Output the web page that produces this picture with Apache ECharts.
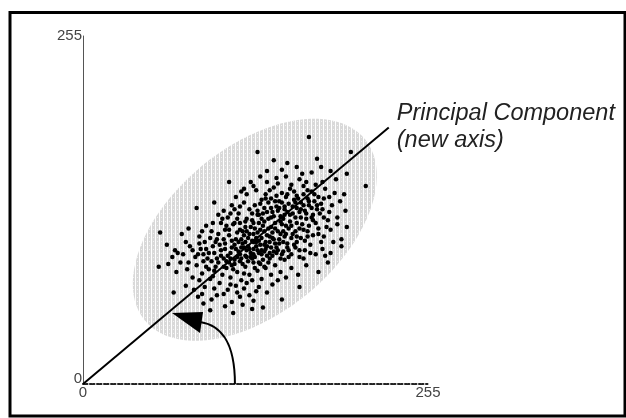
<!DOCTYPE html>
<html>
<head>
<meta charset="utf-8">
<script src="https://cdn.jsdelivr.net/npm/echarts@6/dist/echarts.min.js"></script>
<style>
  html, body { margin: 0; padding: 0; background: #fff; }
  #chart { width: 626px; height: 418px; }
</style>
</head>
<body>
<div id="chart"></div>
<script>
// Two-band intensity space (0..255 on each axis)
const axisRange = [0, 255];
const axisTicks = [0, 255];

// Pixel samples: [band 1 value, band 2 value]
const samplePoints = [
  // sparse upper tail
  [167,181],[129,170],[198,170],[141,164],[151,162],[173,165],[136,156],[158,159],[169,155],[176,159],
  [183,156],[195,154],[209,145],[108,148],[124,148],[136,148],[143,151],[160,150],[177,148],[147,157],
  [162,154],[154,146],[131,152],[187,150],[119,143],[150,152],
  // upper shoulder
  [193,139],[182,137],[128,142],[135,139],[141,144],[147,140],[153,143],[158,138],[163,145],[169,141],
  [174,137],[179,143],[186,140],[113,137],[121,139],[132,135],[139,136],[145,134],[150,137],[156,135],
  [161,133],[166,136],[171,134],[176,132],[144,147],[126,145],[165,148],[190,134],[117,141],[156,141],
  [138,142],[149,130],[178,136],[184,131],[172,146],[166,142],
  // upper core
  [84,129],[97,133],[104,127],[110,131],[115,125],[119,133],[123,128],[127,131],[130,124],[134,129],
  [137,133],[140,126],[143,130],[146,123],[149,128],[152,132],[155,125],[158,129],[161,122],[164,127],
  [167,131],[170,124],[173,128],[178,122],[182,126],[188,122],[194,127],[107,122],[112,128],[121,121],
  [125,125],[132,121],[136,126],[139,122],[144,127],[148,121],[153,124],[157,133],[160,126],[165,121],
  [169,129],[175,125],[129,127],[142,134],[151,126],[163,131],[100,124],[116,130],
  [125,120],[129,124],[133,125],[137,121],[141,123],[145,129],[149,124],[153,119],[157,122],[161,128],
  [165,125],[169,122],[173,131],[177,128],[181,120],[131,132],[135,136],[139,129],[143,138],[147,133],
  [151,139],[155,130],[159,136],[163,139],[167,134],[171,139],[103,121],[109,125],[114,121],
  // central core
  [57,111],[73,110],[78,114],[86,108],[91,116],[95,112],[99,106],[102,118],[105,113],[108,109],
  [111,117],[114,111],[117,106],[120,115],[123,110],[126,118],[128,107],[131,113],[134,119],[136,109],
  [139,115],[141,106],[144,112],[147,117],[149,108],[152,114],[155,110],[158,118],[161,107],[163,113],
  [167,116],[170,109],[174,114],[178,108],[183,113],[188,117],[195,115],[191,106],[129,111],[132,107],
  [137,114],[142,118],[146,110],[150,116],[154,107],[157,112],[119,109],[116,118],[110,105],[125,105],
  [135,104],[145,106],[160,114],[166,108],[172,118],[96,118],[88,112],[106,116],[140,111],[121,112],
  [127,114],[133,116],[148,112],
  [118,112],[122,107],[126,110],[130,118],[134,112],[138,108],[142,114],[146,119],[150,110],[154,116],
  [158,108],[162,117],[166,112],[170,120],[174,110],[100,110],[104,106],[108,113],[112,118],[116,113],
  [120,119],[124,115],[180,115],[185,104],[176,104],
  // lower core
  [62,102],[68,98],[74,95],[79,101],[83,93],[87,99],[90,104],[93,96],[96,101],[99,92],
  [102,98],[105,103],[107,94],[110,100],[112,91],[115,97],[118,103],[120,94],[123,99],[125,92],
  [128,101],[130,96],[133,91],[135,99],[138,104],[140,94],[143,100],[146,92],[148,97],[151,103],
  [154,95],[157,100],[160,93],[164,98],[168,102],[172,95],[177,99],[183,96],[191,101],[115,104],
  [121,98],[126,104],[131,102],[136,94],[141,97],[109,96],[104,92],[98,104],[92,92],[85,95],
  [117,92],[124,96],[132,98],[145,103],[152,98],[158,104],[163,92],[127,93],[134,102],[113,99],
  [119,100],[143,96],[149,91],[139,100],[129,98],[122,101],
  [112,102],[116,95],[120,104],[124,93],[128,104],[132,95],[136,101],[140,107],[144,98],[148,104],
  [152,93],[156,102],[160,98],[164,105],[168,96],[105,99],[109,92],[113,106],[117,100],[121,93],
  [126,99],[130,105],[134,97],[138,92],[142,103],[147,95],[151,100],[86,103],[91,99],[94,107],
  [81,98],[89,95],[97,96],[101,102],[76,104],[70,96],[66,93],[179,94],
  // lower shoulder
  [56,86],[63,88],[69,82],[72,89],[77,84],[81,78],[84,87],[88,81],[91,86],[94,77],
  [97,83],[100,89],[103,80],[106,85],[109,78],[112,88],[114,82],[117,76],[120,86],[123,80],
  [126,89],[129,83],[132,77],[135,85],[139,80],[142,87],[146,82],[150,78],[154,85],[159,80],
  [165,87],[174,82],[181,89],[108,89],[116,90],[96,79],[89,90],[125,76],[131,88],[137,89],
  [119,81],[111,84],[86,76],[78,89],[144,76],[104,86],[93,84],[127,85],
  [95,90],[98,86],[102,94],[106,90],[110,87],[114,93],[118,88],[122,90],[126,95],[130,89],
  [134,86],[138,96],
  // lower tail
  [67,67],[85,64],[99,65],[107,69],[110,60],[116,64],[123,65],[136,67],[101,74],[130,71],
  [76,72],[82,69],[90,71],[95,62],[104,66],[113,72],[119,70],[126,61],[140,73],[147,62],
  [160,71],[88,66],[121,74],[109,73],[97,70],[114,67],[128,68],
  [94,54],[111,52],[133,56],[105,57],[89,59],[118,58],[125,55]
];

// First principal component through the origin
const componentAxis = [[0, 0], [226, 188]];
const componentTitle = ['Principal Component', '(new axis)'];

// Spread ellipse: [centre x, centre y, semi-major, semi-minor, tilt in degrees]
const spreadEllipse = [127, 113, 105, 61, 39];

// Rotation arrow from the old axis to the new one (cubic curve + head)
const rotationArc = [[112.3, 0], [112.3, 32.2], [101.2, 43.2], [86.5, 45.4]];
const rotationHead = [[65.8, 52], [88.7, 52.7], [86.5, 37.4]];

// Light stippled fill for the ellipse
function stipple() {
  const c = document.createElement('canvas');
  c.width = 4; c.height = 4;
  const g = c.getContext('2d');
  g.fillStyle = '#ffffff';
  g.fillRect(0, 0, 4, 4);
  g.fillStyle = '#d9d9d9';
  g.fillRect(0, 0, 3, 4);
  g.fillStyle = '#f2f2f2';
  g.fillRect(1, 1, 1, 1);
  return c;
}

const chart = echarts.init(document.getElementById('chart'), null, { renderer: 'canvas' });
const labelFont = 'Liberation Sans, Arial, sans-serif';

chart.setOption({
  animation: false,
  backgroundColor: '#fff',
  grid: { left: 83, right: 198, top: 36, bottom: 34, containLabel: false },
  graphic: [{
    type: 'rect',
    shape: { x: 10, y: 12.5, width: 615, height: 403.5 },
    style: { fill: 'none', stroke: '#000', lineWidth: 3 },
    silent: true
  }],
  xAxis: {
    type: 'value', min: axisRange[0], max: axisRange[1], interval: axisTicks[1] - axisTicks[0],
    axisLine: { show: true, onZero: false, lineStyle: { color: '#222', width: 2, type: [1.5, 1.5, 1.5, 2.5] } },
    axisTick: { show: false }, splitLine: { show: false },
    axisLabel: { fontSize: 15, margin: 1, color: '#444', fontFamily: labelFont }
  },
  yAxis: {
    type: 'value', min: axisRange[0], max: axisRange[1], interval: axisTicks[1] - axisTicks[0],
    axisLine: { show: true, onZero: false, lineStyle: { color: '#555', width: 1 } },
    axisTick: { show: false }, splitLine: { show: false },
    axisLabel: {
      fontSize: 15, margin: 1, color: '#444', fontFamily: labelFont,
      formatter: v => (v === axisTicks[0] ? '{lo|' + v + '}' : String(v)),
      rich: { lo: { fontSize: 15, color: '#444', fontFamily: labelFont, padding: [0, 0, 10, 0] } }
    }
  },
  series: [
    {
      type: 'custom',
      z: 1,
      silent: true,
      data: [spreadEllipse],
      renderItem: function (params, api) {
        const cx = api.value(0), cy = api.value(1), a = api.value(2), b = api.value(3);
        const t = api.value(4) * Math.PI / 180;
        const pts = [];
        for (let i = 0; i < 96; i++) {
          const s = i / 96 * Math.PI * 2;
          const dx = a * Math.cos(s), dy = b * Math.sin(s);
          pts.push(api.coord([cx + dx * Math.cos(t) - dy * Math.sin(t), cy + dx * Math.sin(t) + dy * Math.cos(t)]));
        }
        return { type: 'polygon', shape: { points: pts }, style: { fill: { image: stipple(), repeat: 'repeat' } } };
      }
    },
    {
      type: 'scatter',
      z: 2,
      data: samplePoints,
      symbolSize: 4.5,
      itemStyle: { color: '#000', opacity: 1 },
      silent: true
    },
    {
      type: 'line',
      z: 3,
      data: componentAxis,
      symbol: 'none',
      lineStyle: { color: '#000', width: 2 },
      silent: true,
      endLabel: {
        show: true,
        formatter: componentTitle.join('\n'),
        fontStyle: 'italic',
        fontSize: 23.5,
        lineHeight: 27,
        fontFamily: labelFont,
        color: '#222',
        distance: 8,
        align: 'left',
        verticalAlign: 'middle'
      }
    },
    {
      type: 'custom',
      z: 4,
      silent: true,
      data: [0],
      renderItem: function (params, api) {
        const p = rotationArc.map(q => api.coord(q));
        const h = rotationHead.map(q => api.coord(q));
        return {
          type: 'group',
          children: [
            {
              type: 'bezierCurve',
              shape: { x1: p[0][0], y1: p[0][1], cpx1: p[1][0], cpy1: p[1][1], cpx2: p[2][0], cpy2: p[2][1], x2: p[3][0], y2: p[3][1] },
              style: { stroke: '#000', lineWidth: 2, fill: null }
            },
            { type: 'polygon', shape: { points: h }, style: { fill: '#000' } }
          ]
        };
      }
    }
  ]
});
</script>
</body>
</html>
